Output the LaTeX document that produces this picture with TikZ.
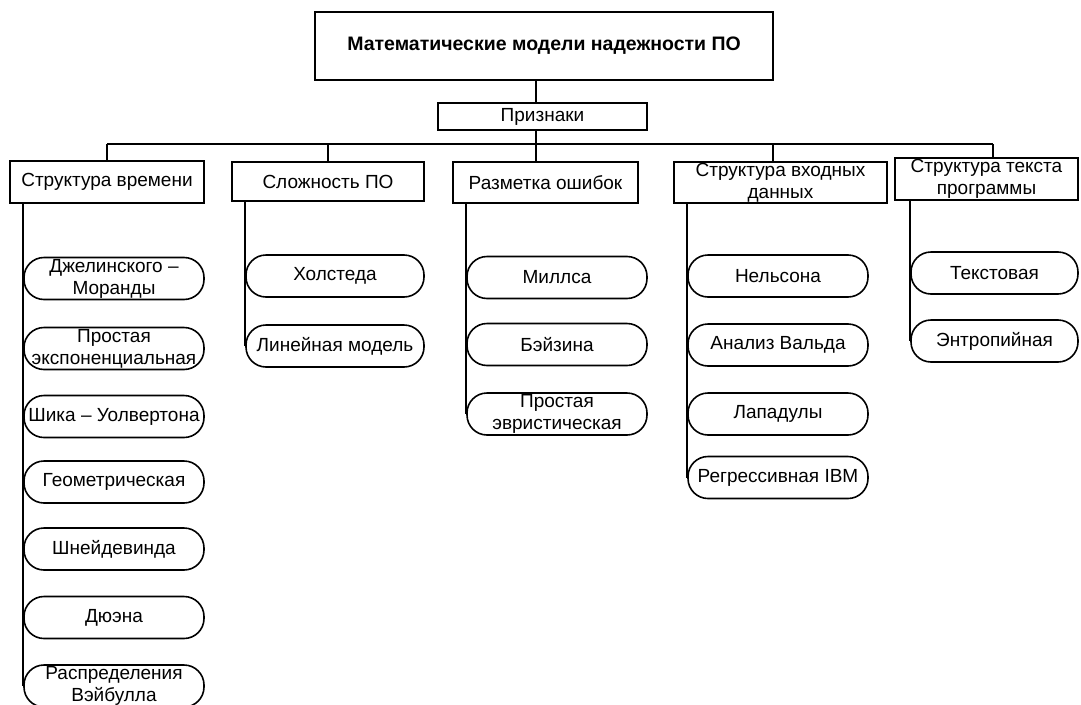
\documentclass[tikz,border=0pt]{standalone}
\usepackage{fontspec}
\setmainfont{Liberation Sans}
\begin{document}
\begin{tikzpicture}[x=1pt,y=-1pt,
  txt/.style={font=\fontsize{19}{22}\selectfont},
  box/.style={draw, line width=1.6pt, rectangle, inner sep=0pt, align=center, txt},
  pill/.style={draw, line width=1.6pt, rounded corners=20pt, minimum height=42pt, inner sep=0pt},
  lbl/.style={align=center, txt, inner sep=0pt},
  conn/.style={line width=1.6pt}]
\useasboundingbox (0,0) rectangle (1081,704);
% top
\node[box, minimum width=458pt, minimum height=68pt, font=\fontsize{19.5}{22}\selectfont\bfseries] (title) at (544,46) {Математические модели надежности ПО};
\node[box, minimum width=209pt, minimum height=27pt] (pr) at (542.5,116.5) {Признаки};
% categories
\node[box, minimum width=194pt, minimum height=42pt] (c1) at (107,182) {Структура времени};
\node[box, minimum width=192pt, minimum height=39pt] (c2) at (328,181.5) {Сложность ПО};
\node[box, minimum width=185pt, minimum height=41pt] (c3) at (545.5,182.5) {Разметка ошибок};
\node[box, minimum width=213pt, minimum height=41pt] (c4) at (780.5,182.5) {Структура входных\\данных};
\node[box, minimum width=183pt, minimum height=42pt] (c5) at (986.5,179) {Структура текста\\программы};
% bus
\coordinate (stem) at (536,144);
\coordinate (b1) at (107,144);
\coordinate (b2) at (328,144);
\coordinate (b3) at (536,144);
\coordinate (b4) at (773,144);
\coordinate (b5) at (993,144);
\draw[conn] (title.south -| stem) -- (pr.north -| stem);
\draw[conn] (pr.south -| stem) -- (stem);
\draw[conn] (b1) -- (b5);
\draw[conn] (b1) -- (b1 |- c1.north);
\draw[conn] (b2) -- (b2 |- c2.north);
\draw[conn] (b3) -- (b3 |- c3.north);
\draw[conn] (b4) -- (b4 |- c4.north);
\draw[conn] (b5) -- (b5 |- c5.north);
% column 1
\node[pill, minimum width=180pt, label={[lbl]center:{Джелинского –\\Моранды}}] (a1) at (114,278.5) {};
\node[pill, minimum width=180pt, label={[lbl]center:{Простая\\экспоненциальная}}] (a2) at (114,348.5) {};
\node[pill, minimum width=180pt, label={[lbl]center:{Шика – Уолвертона}}] (a3) at (114,416.5) {};
\node[pill, minimum width=180pt, label={[lbl]center:{Геометрическая}}] (a4) at (114,482) {};
\node[pill, minimum width=180pt, label={[lbl]center:{Шнейдевинда}}] (a5) at (114,549) {};
\node[pill, minimum width=180pt, label={[lbl]center:{Дюэна}}] (a6) at (114,617.5) {};
\node[pill, minimum width=180pt, label={[lbl]center:{Распределения\\Вэйбулла}}] (a7) at (114,686) {};
\draw[conn] (c1.south -| a7.west) -- (a7.west);
% column 2
\node[pill, minimum width=178pt, label={[lbl]center:{Холстеда}}] (d1) at (335,276) {};
\node[pill, minimum width=178pt, label={[lbl]center:{Линейная модель}}] (d2) at (335,346) {};
\draw[conn] (c2.south -| d2.west) -- (d2.west);
% column 3
\node[pill, minimum width=180pt, label={[lbl]center:{Миллса}}] (e1) at (557,277.5) {};
\node[pill, minimum width=180pt, label={[lbl]center:{Бэйзина}}] (e2) at (557,344.5) {};
\node[pill, minimum width=180pt, label={[lbl]center:{Простая\\эвристическая}}] (e3) at (557,414) {};
\draw[conn] (c3.south -| e3.west) -- (e3.west);
% column 4
\node[pill, minimum width=180pt, label={[lbl]center:{Нельсона}}] (f1) at (778,276) {};
\node[pill, minimum width=180pt, label={[lbl]center:{Анализ Вальда}}] (f2) at (778,345) {};
\node[pill, minimum width=180pt, label={[lbl]center:{Лападулы}}] (f3) at (778,414) {};
\node[pill, minimum width=180pt, label={[lbl]center:{Регрессивная IBM}}] (f4) at (778,477.5) {};
\draw[conn] (c4.south -| f4.west) -- (f4.west);
% column 5
\node[pill, minimum width=167pt, label={[lbl]center:{Текстовая}}] (g1) at (994.5,273) {};
\node[pill, minimum width=167pt, label={[lbl]center:{Энтропийная}}] (g2) at (994.5,341) {};
\draw[conn] (c5.south -| g2.west) -- (g2.west);
\end{tikzpicture}
\end{document}
